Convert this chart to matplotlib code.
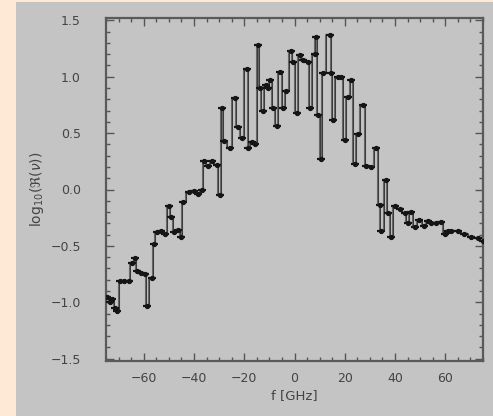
import matplotlib
matplotlib.use("Agg")
import matplotlib.pyplot as plt
from matplotlib.patches import Rectangle
from matplotlib.ticker import MultipleLocator

# frequency offsets [GHz]
freq = [-74.5, -73.5, -72.5, -71.5, -70.5, -69.5, -68, -66, -64.7, -63.4, -62.7, -61, -59.4,
        -58.7, -56.7, -56, -54.8, -53, -51.5, -50, -49, -48, -46.5, -45, -44.2, -42, -40, -38.5, -37,
        -36, -34.5, -33, -31, -29.6, -29, -28, -25.7, -23.7, -22.5, -21, -19, -18.4, -17, -15.7,
        -14.4, -13.8, -12.5, -11.4, -10.4, -9.8, -8.5, -7.1, -5.8, -4.5, -3.2, -1.2, -0.5, 0.8,
        2.1, 3.4, 5.4, 6.1, 8.0, 8.7, 9.4, 10.7, 11.4, 14.0, 14.7, 15.3, 17.3, 18.7, 20.0, 21.3,
        22.6, 24.0, 25.3, 27.2, 28.6, 30.6, 32.5, 33.9, 34.5, 36.5, 37.2, 38.5, 39.8, 41.8,
        43.8, 45.1, 46.4, 47.8, 49.7, 51.7, 53.0, 54.4, 56.3, 58.3, 59.7, 61.0, 62.3, 65.0,
        67.6, 70.2, 72.9, 74.9]
# log10 of spectral density
logS = [-0.95, -1.0, -0.97, -1.05, -1.08, -0.81, -0.81, -0.81, -0.65, -0.61, -0.72, -0.74, -0.75,
        -1.03, -0.78, -0.48, -0.38, -0.37, -0.39, -0.15, -0.24, -0.38, -0.36, -0.42, -0.11, -0.02,
        -0.01, -0.04, 0.0, 0.25, 0.21, 0.25, 0.22, -0.05, 0.72, 0.43, 0.37, 0.81, 0.55, 0.46, 1.07,
        0.37, 0.42, 0.40, 1.28, 0.90, 0.70, 0.93, 0.90, 0.97, 0.72, 0.56, 1.04, 0.72, 0.87, 1.23,
        1.13, 0.68, 1.19, 1.15, 1.13, 0.72, 1.20, 1.35, 0.66, 0.27, 1.03, 1.37, 1.03, 0.62, 1.0,
        1.0, 0.44, 0.82, 0.97, 0.23, 0.49, 0.75, 0.21, 0.20, 0.37, -0.14, -0.37, 0.08, -0.21,
        -0.42, -0.15, -0.17, -0.21, -0.30, -0.20, -0.33, -0.27, -0.32, -0.28, -0.30, -0.30, -0.29,
        -0.39, -0.37, -0.37, -0.37, -0.39, -0.42, -0.43, -0.46]

xticks = [-60, -40, -20, 0, 20, 40, 60]
yticks = [-1.5, -1.0, -0.5, 0.0, 0.5, 1.0, 1.5]

fig = plt.figure(figsize=(4.93, 4.16), dpi=100, facecolor='#fde9d5')
panel = Rectangle((16 / 493, 0), 1, 1 - 2 / 416, transform=fig.transFigure,
                  facecolor='#c4c4c4', edgecolor='none', zorder=-10)
fig.add_artist(panel)
ax = fig.add_axes([106 / 493, 1 - 361 / 416, (483 - 106) / 493, (361 - 18) / 416])
ax.set_zorder(5)
ax.set_facecolor('#c4c4c4')

ax.plot(freq, logS, drawstyle='steps-mid', color='#666666', lw=1.5, zorder=2)
ax.plot(freq, logS, drawstyle='steps-mid', color='#333333', lw=0.6, zorder=3)
ax.plot(freq, logS, linestyle='none', marker='o', ms=2.8, color='#151515', zorder=4)
ax.plot(freq, logS, linestyle='none', marker='_', ms=6, mew=1.6, color='#151515', zorder=4)

ax.set_xlim(-75, 75)
ax.set_ylim(-1.52, 1.52)
ax.set_xticks(xticks)
ax.set_yticks(yticks)
ax.set_xticklabels(['−60', '−40', '−20', '0', '20', '40', '60'])
ax.set_yticklabels(['−1.5', '−1.0', '−0.5', '0.0', '0.5', '1.0', '1.5'])
ax.xaxis.set_minor_locator(MultipleLocator(5))
ax.yaxis.set_minor_locator(MultipleLocator(0.1))
ax.tick_params(which='both', direction='in', top=True, right=True, colors='#555555',
               labelsize=9, labelcolor='#444444', width=1)
ax.tick_params(which='major', length=6)
ax.tick_params(which='minor', length=3)
ax.tick_params(axis='y', which='major', pad=18)
ax.tick_params(axis='x', which='major', pad=8)
for s in ax.spines.values():
    s.set_color('#5a5a5a')
    s.set_linewidth(1.6)

ax.set_xlabel('f [GHz]', fontsize=9.5, color='#444444', labelpad=3)
ax.set_ylabel(r'log$_{10}$($\Re$($\nu$))', fontsize=10, color='#444444', labelpad=3)

fig.savefig('out.png', dpi=100, facecolor=fig.get_facecolor())
